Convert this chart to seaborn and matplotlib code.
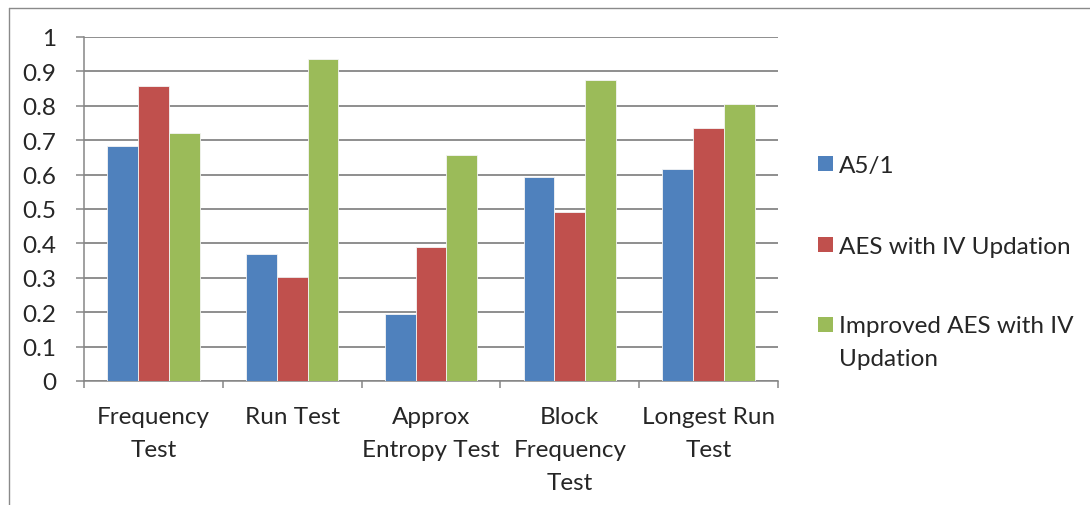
import matplotlib
matplotlib.use("Agg")
import matplotlib.pyplot as plt
from matplotlib.lines import Line2D
from matplotlib.patches import Rectangle
import seaborn as sns
import pandas as pd

# Test names (wrapped as they appear under the axis)
categories = ["Frequency\nTest", "Run Test", "Approx\nEntropy Test",
              "Block\nFrequency\nTest", "Longest Run\nTest"]
series_names = ["A5/1", "AES with IV Updation", "Improved AES with IV\nUpdation"]

# Scores per test for each cipher
a51 = [0.683, 0.370, 0.195, 0.593, 0.617]
aes_iv = [0.858, 0.302, 0.390, 0.491, 0.735]
improved_aes_iv = [0.722, 0.935, 0.657, 0.874, 0.805]

yticks = [0, 0.1, 0.2, 0.3, 0.4, 0.5, 0.6, 0.7, 0.8, 0.9, 1.0]
ytick_labels = ["0", "0.1", "0.2", "0.3", "0.4", "0.5", "0.6", "0.7", "0.8", "0.9", "1"]

colors = ["#4F81BD", "#C0504D", "#9BBB59"]

rows = []
for name, vals in zip(series_names, [a51, aes_iv, improved_aes_iv]):
    for cat, v in zip(categories, vals):
        rows.append({"test": cat, "score": v, "series": name})
df = pd.DataFrame(rows)

sns.set_style("white")
plt.rcParams["font.family"] = ["Lato", "DejaVu Sans"]

W, H = 1090, 506
fig = plt.figure(figsize=(W / 100, H / 100), dpi=100)
ax = fig.add_axes([84 / W, 1 - 382 / H, (778 - 84) / W, (382 - 38) / H])

sns.barplot(data=df, x="test", y="score", hue="series", order=categories,
            hue_order=series_names, palette=colors, saturation=1,
            width=3 / 4.5, gap=0, errorbar=None, legend=False,
            edgecolor="#f4f4f4", linewidth=0.6, ax=ax, zorder=3)

grid_col = "#868686"
fs = 17.5
line_sp = 1.72

ax.set_xlim(-0.5, 4.5)
ax.set_ylim(0, 1)
ax.set_yticks(yticks)
ax.set_yticklabels(ytick_labels, fontsize=fs)
ax.set_xticks(range(len(categories)))
ax.set_xticklabels(categories, fontsize=fs, linespacing=line_sp)
ax.set_xticks([i - 0.5 for i in range(len(categories) + 1)], minor=True)
ax.set_xlabel("")
ax.set_ylabel("")

ax.yaxis.grid(True, color=grid_col, linewidth=1.3, zorder=0)
ax.set_axisbelow(True)
ax.tick_params(axis="y", which="major", direction="out", length=5.8,
               width=1.1, color=grid_col, pad=14, left=True)
ax.tick_params(axis="x", which="major", length=0, pad=18)
ax.tick_params(axis="x", which="minor", direction="out", length=5,
               width=1.1, color=grid_col, bottom=True)
for side in ["top", "right"]:
    ax.spines[side].set_visible(False)
for side in ["left", "bottom"]:
    ax.spines[side].set_color(grid_col)
    ax.spines[side].set_linewidth(1.1)

# Legend drawn as colour squares with labels beside them;
# the square sits level with the first line of its label
leg_x = 818
leg_first_baselines = [173, 254, 334]
leg_line_step = 32
for name, col, yb in zip(series_names, colors, leg_first_baselines):
    fig.add_artist(Rectangle((leg_x / W, 1 - (yb - 1) / H), 15 / W, 15 / H,
                             transform=fig.transFigure, facecolor=col,
                             edgecolor="none"))
    last_baseline = yb + leg_line_step * name.count("\n")
    fig.text((leg_x + 21) / W, 1 - last_baseline / H, name, fontsize=fs,
             va="baseline", ha="left", linespacing=line_sp)

# Chart frame (left and top edges visible)
fig.add_artist(Line2D([8.5 / W, 8.5 / W], [1 - 8.5 / H, 0], transform=fig.transFigure,
                      color="#8a8a8a", linewidth=1.0))
fig.add_artist(Line2D([8.5 / W, 1], [1 - 8.5 / H, 1 - 8.5 / H], transform=fig.transFigure,
                      color="#8a8a8a", linewidth=1.0))

fig.savefig("out.png", dpi=100)
